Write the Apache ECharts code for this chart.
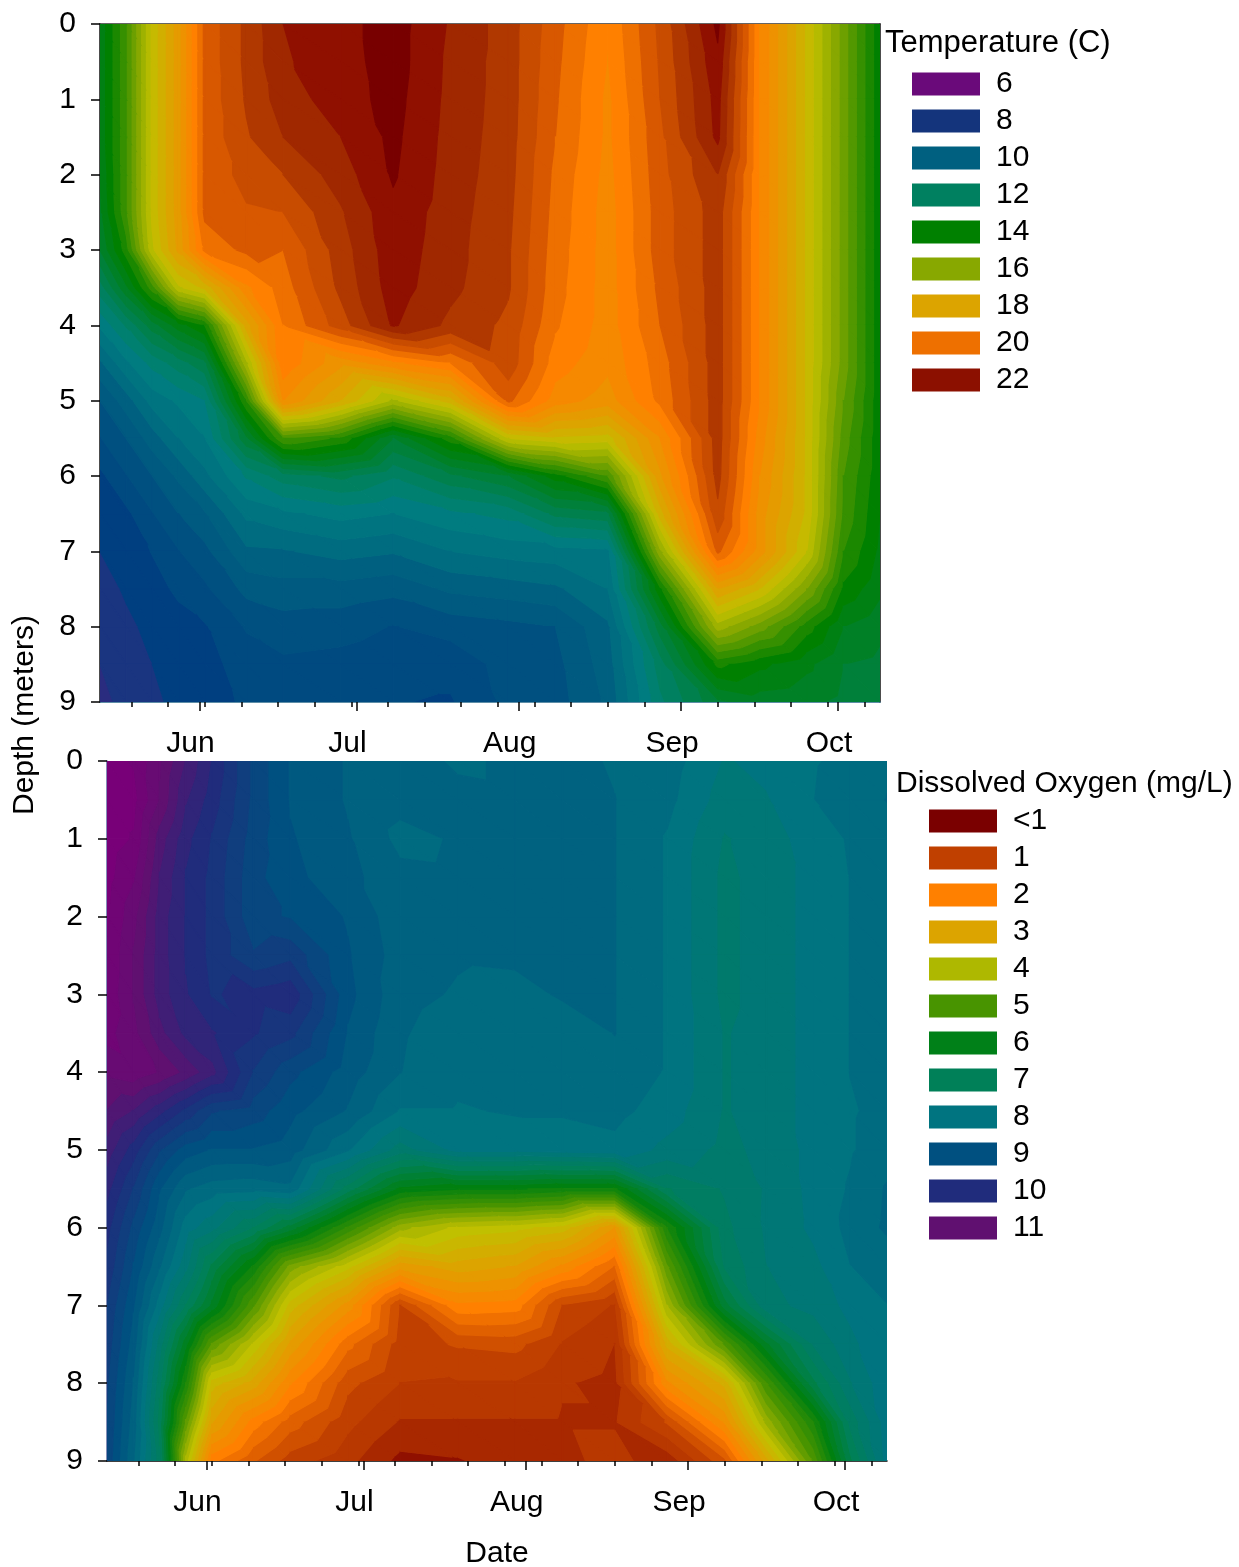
<!DOCTYPE html>
<html><head><meta charset="utf-8">
<style>html,body{margin:0;padding:0;background:#fff}#c{width:1239px;height:1567px}</style>
<script src="https://cdn.jsdelivr.net/npm/echarts@6/dist/echarts.min.js"></script>
</head><body><div id="c"></div>
<script>
// Sampling dates as day of year, and depths in metres
const sampleDays = [133,138,143,148,153,161,168,179,189,200,211,220,230,240,251,259,268,275,282];
const depths = [0,0.5,1,1.5,2,2.5,3,3.5,4,4.5,5,5.5,6,6.5,7,7.5,8,8.5,9];
const monthDays = [152,182,213,244,274];
const monthLabels = ['Jun','Jul','Aug','Sep','Oct'];
const weekDays = [139,146,153,160,167,174,181,188,195,202,209,216,223,230,237,244,251,258,265,272,279];
const depthTicks = [0,1,2,3,4,5,6,7,8,9];

// Temperature (C): one profile per sampling date, surface to 9 m
const temperatureProfiles = [
[13.5,13.5,13.5,13.5,13.4,13.3,13.0,12.0,11.07,10.12,9.4,8.98,8.5,8.38,8.2,8.0,7.9,7.8,7.7],
[14.9,14.9,14.9,14.9,14.9,14.9,14.4,13.3,11.84,10.91,10,9.4,8.98,8.5,8.38,8.26,8.1,8.0,7.9],
[17.1,17.1,17.1,17.1,17.1,17.1,16.9,14.8,12.8,11.53,10.76,10,9.4,8.98,8.62,8.44,8.32,8.2,8.15],
[18.4,18.4,18.4,18.4,18.4,18.4,18.3,16.9,13.6,12,11.07,10.6,9.88,9.4,8.98,8.68,8.44,8.32,8.26],
[20.3,20.3,20.3,20.3,20.3,20.3,19.9,17.5,14.2,12.5,11.38,10.99,10.48,9.76,9.28,8.92,8.56,8.44,8.38],
[21.1,21.1,21.05,20.95,20.75,20.55,20.3,19.3,18,16.5,14.6,12.9,11.45,10.7,10.12,9.52,9.04,8.8,8.68],
[21.8,21.75,21.6,21.4,21,20.6,20.2,20,19.8,19.7,19,15,12,10.91,10.16,9.64,9.22,8.92,8.8],
[22.05,22.02,22,21.8,21.6,21.35,21.2,21.1,20.8,18.7,17.8,14.5,12.3,11.14,10.36,9.64,9.16,8.86,8.74],
[22.4,22.4,22.35,22.3,22.25,22.1,22.05,22,21.85,19.3,16.5,13,11.84,10.99,10.24,9.52,8.98,8.74,8.62],
[21.75,21.7,21.68,21.65,21.62,21.58,21.55,21.5,21.3,19.8,17.6,14.4,12.5,11.3,10.6,9.88,9.16,8.74,8.56],
[21.2,21.2,21.2,21.18,21.15,21.1,21.05,21.05,20.9,20.85,20.3,17,13,11.53,10.76,10,9.28,9.16,9.1],
[20.35,20.3,20.25,20.2,20.1,20.05,20,19.95,19.85,19.6,19.2,17.3,14,12.3,10.83,10.12,9.4,9.28,9.22],
[19.45,19.38,19.3,19.3,19.25,19.2,19.2,19.2,19.2,19.1,18.8,17.2,15,12.5,10.91,10.6,10.12,10,9.88],
[20.7,20.65,20.6,20.5,20.45,20.4,20.4,20.3,20.2,20,19.9,19,18.5,17.6,16.1,14.1,12.8,12,11.7],
[22.3,22.1,21.95,21.9,21.4,21.2,21.2,21.2,21.2,21.2,21.2,21.2,21.15,20.9,20.3,18.2,16.4,14.3,12.9],
[19.4,19.4,19.4,19.4,19.4,19.4,19.4,19.4,19.4,19.4,19.4,19.2,19,18.8,18.8,17.4,15.6,13.9,13.2],
[17.3,17.3,17.3,17.3,17.3,17.3,17.3,17.3,17.3,17.3,17.3,17.3,17.3,17.3,17,15.8,14.4,13.5,13.1],
[15.6,15.6,15.6,15.6,15.6,15.6,15.6,15.6,15.6,15.6,15.4,15.2,15,14.9,14.6,14.1,13.4,13,12.9],
[13.9,13.9,13.9,13.9,13.9,13.9,13.9,13.9,13.9,13.9,13.9,13.9,13.9,13.8,13.7,13.5,13.1,12.9,12.8]
];

// Dissolved oxygen (mg/L): one profile per sampling date, surface to 9 m
const oxygenProfiles = [
[11.7,11.75,11.75,11.7,11.65,11.6,11.55,11.45,11.2,10.85,10.5,10.2,9.95,9.8,9.6,9.5,9.4,9.35,9.3],
[11.6,11.7,11.6,11.4,11.2,11.1,11.1,11.2,11.3,10.6,10,9.6,9.3,9.1,8.9,8.75,8.6,8.5,8.4],
[11.15,11.1,10.75,10.6,10.5,10.5,10.5,10.7,11.1,10.2,9.4,8.9,8.7,8.4,8,7.5,7.2,7,7.2],
[10.6,10.4,10.2,10.1,10.1,10.1,10.15,10.3,10.8,9.8,9,8.4,8,7.7,7.1,6.2,5.6,4.8,4],
[10.1,10,9.85,9.8,9.8,9.8,9.85,10.15,10.45,9.4,8.85,8.25,7.7,6.8,6.3,4.8,3.5,2.9,1.95],
[9.3,9.3,9.25,9.2,9.2,9.4,9.95,9.9,9.6,9.25,8.85,8.2,7.1,5.8,4.9,3.8,3,2,1.4],
[8.85,8.85,8.9,8.95,9.1,9.55,10.05,9.7,9.2,8.95,8.75,8.3,6.5,4.5,3.5,2.8,2.15,1.5,1],
[8.6,8.6,8.65,8.7,8.85,8.9,8.95,8.85,8.75,8.6,8.15,7,5.3,3.7,2.5,1.7,1.2,0.95,0.7],
[8.45,8.45,8.3,8.45,8.45,8.5,8.45,8.4,8.38,8.1,7.5,6.05,4.2,2.7,1.1,1,0.87,0.6,0.3],
[8.35,8.42,8.4,8.42,8.42,8.4,8.35,8.25,8.2,8.1,7.95,5.9,3.8,3,2.05,1.15,0.85,0.6,0.35],
[8.4,8.4,8.42,8.42,8.42,8.42,8.3,8.2,8.2,8.15,7.95,5.9,3.7,2.85,2,1.2,0.85,0.6,0.5],
[8.45,8.45,8.45,8.45,8.45,8.45,8.4,8.25,8.2,8.15,8,5.8,3.5,2.3,1.1,0.85,0.65,0.6,0.55],
[8.35,8.38,8.38,8.38,8.38,8.38,8.38,8.38,8.3,8.2,8.05,5.8,2.6,1.6,0.85,0.62,0.55,0.6,0.72],
[8.25,8.2,8.1,8.1,8.1,8.1,8.1,8.1,8.1,8,7.8,7.1,5.6,4.8,4.1,3.2,2.3,1.15,0.45],
[7.85,7.75,7.6,7.55,7.55,7.55,7.55,7.6,7.6,7.6,7.55,7.4,7.3,7.15,6.5,4.9,3.2,2.4,1.3],
[7.95,7.85,7.75,7.75,7.75,7.75,7.75,7.75,7.75,7.75,7.7,7.65,7.66,7.62,7.55,6.3,5.1,4.2,3],
[8.1,8.12,8,7.95,7.95,7.95,7.95,7.95,7.95,7.95,7.95,7.95,7.93,7.8,7.7,7.4,6.8,5.6,4.9],
[8.2,8.3,8.15,8.13,8.13,8.13,8.13,8.13,8.13,8.1,8.1,8.15,8.2,8.12,7.95,7.8,7.6,7.2,6.8],
[8.35,8.38,8.3,8.25,8.25,8.25,8.25,8.2,8.2,8.2,8.25,8.4,8.42,8.2,8.12,8.1,8.05,8,7.95]
];

// Legends
const tempLegendLabels = ['6','8','10','12','14','16','18','20','22'];
const tempLegendColors = ['#6a0a7a','#14347c','#006080','#008060','#008000','#88a800','#dca400','#ee7000','#8c1000'];
const doLegendLabels = ['<1','1','2','3','4','5','6','7','8','9','10','11'];
const doLegendColors = ['#7a0000','#c04000','#ff8000','#dca400','#aeb800','#489400','#008018','#008058','#007480','#005080','#202c7c','#601070'];

// Colour ramps and contour interval
const tempRamp = [[6,'#6a0a7a'],[8,'#1a3580'],[8.4,'#003f80'],[8.8,'#004a80'],[9.2,'#005080'],[9.6,'#005a80'],[10,'#006080'],[10.4,'#006c80'],[10.8,'#007480'],[11.2,'#007c80'],[11.6,'#008070'],[12,'#008060'],[14,'#008000'],[16,'#88a800'],[17,'#c0c000'],[18,'#dca400'],[19.6,'#ff8000'],[20,'#ee7000'],[20.4,'#d85800'],[20.8,'#c84c00'],[21.2,'#b03800'],[21.6,'#a02800'],[22,'#901000'],[22.4,'#780000']];
const doRamp = [[0,'#7a0000'],[0.25,'#901000'],[0.5,'#a82800'],[0.75,'#b83800'],[1,'#c04000'],[1.25,'#d05000'],[1.5,'#e06000'],[1.75,'#f07000'],[2,'#ff8000'],[3,'#dca400'],[3.75,'#c0c000'],[4,'#aeb800'],[5,'#489400'],[6,'#008010'],[7,'#008058'],[8,'#007480'],[9,'#005080'],[10,'#202c7c'],[11,'#601070'],[11.75,'#780078']];
const tempStep = 0.4, doStep = 0.25;

const FONT = '"Liberation Sans", Arial, sans-serif';

function hex(c){return [parseInt(c.slice(1,3),16),parseInt(c.slice(3,5),16),parseInt(c.slice(5,7),16)];}
function rampColor(ramp,v){
  if(v<=ramp[0][0])return ramp[0][1];
  for(let i=1;i<ramp.length;i++){
    if(v<=ramp[i][0]){
      const a=hex(ramp[i-1][1]),b=hex(ramp[i][1]),t=(v-ramp[i-1][0])/(ramp[i][0]-ramp[i-1][0]);
      return 'rgb('+a.map((x,k)=>Math.round(x+(b[k]-x)*t)).join(',')+')';
    }
  }
  return ramp[ramp.length-1][1];
}
// Clip a polygon with per-vertex value to one side of a level
function clip(poly,level,keepAbove){
  const out=[];
  for(let i=0;i<poly.length;i++){
    const p=poly[i],q=poly[(i+1)%poly.length];
    const pin=keepAbove?p[2]>=level:p[2]<=level, qin=keepAbove?q[2]>=level:q[2]<=level;
    if(pin)out.push(p);
    if(pin!==qin){
      const t=(level-p[2])/(q[2]-p[2]);
      out.push([p[0]+(q[0]-p[0])*t,p[1]+(q[1]-p[1])*t,level]);
    }
  }
  return out;
}
function bandPolys(tri,step,ramp,children){
  const vs=tri.map(p=>p[2]);
  const k0=Math.round(Math.min.apply(null,vs)/step),k1=Math.round(Math.max.apply(null,vs)/step);
  for(let k=k0;k<=k1;k++){
    let poly=clip(tri,(k-0.5)*step,true);
    if(poly.length>2)poly=clip(poly,(k+0.5)*step,false);
    if(poly.length>2){
      const col=rampColor(ramp,k*step);
      children.push({type:'polygon',silent:true,shape:{points:poly.map(p=>[p[0],p[1]])},
        style:{fill:col,stroke:col,lineWidth:1.2,lineJoin:'round'}});
    }
  }
}
function cells(profiles){
  const out=[];
  for(let i=0;i<sampleDays.length-1;i++)for(let j=0;j<depths.length-1;j++){
    out.push([sampleDays[i],sampleDays[i+1],depths[j],depths[j+1],profiles[i][j],profiles[i+1][j],profiles[i][j+1],profiles[i+1][j+1]]);
  }
  return out;
}
function contourSeries(profiles,step,ramp,xi,yi){
  return {type:'custom',xAxisIndex:xi,yAxisIndex:yi,coordinateSystem:'cartesian2d',clip:true,silent:true,z:1,
    animation:false,progressive:0,
    encode:{x:[0,1],y:[2,3]},data:cells(profiles),
    renderItem:function(params,api){
      const d0=api.value(0),d1=api.value(1),z0=api.value(2),z1=api.value(3);
      const a=api.coord([d0,z0]),b=api.coord([d1,z0]),c=api.coord([d0,z1]),e=api.coord([d1,z1]);
      const A=[a[0],a[1],api.value(4)],B=[b[0],b[1],api.value(5)],C=[c[0],c[1],api.value(6)],E=[e[0],e[1],api.value(7)];
      const children=[];
      bandPolys([A,B,E],step,ramp,children);
      bandPolys([A,E,C],step,ramp,children);
      return {type:'group',children:children};
    }};
}
function monthAxis(gridIndex,name,lineColor){
  return {type:'value',gridIndex:gridIndex,min:133,max:282,position:'bottom',splitLine:{show:false},
    name:name,nameLocation:'middle',nameGap:78,nameTextStyle:{fontFamily:FONT,fontSize:30,color:'#000'},
    axisLine:{show:true,onZero:false,lineStyle:{color:lineColor,width:1.5}},
    axisTick:{show:true,customValues:monthDays,length:9,lineStyle:{color:'#000',width:1.5}},
    axisLabel:{show:true,customValues:monthDays,margin:27,fontFamily:FONT,fontSize:30,color:'#000',padding:[0,18,0,0],
      formatter:function(v){return monthLabels[monthDays.indexOf(v)];}}};
}
function weekAxis(gridIndex){
  return {type:'value',gridIndex:gridIndex,min:133,max:282,position:'bottom',splitLine:{show:false},
    axisLine:{show:false,onZero:false},
    axisTick:{show:true,customValues:weekDays,length:5,lineStyle:{color:'#000',width:1.5}},
    axisLabel:{show:false}};
}
function depthAxis(gridIndex,lineColor){
  return {type:'value',gridIndex:gridIndex,inverse:true,min:0,max:9,interval:1,position:'left',splitLine:{show:false},
    axisLine:{show:true,onZero:false,lineStyle:{color:lineColor,width:1.5}},
    axisTick:{show:true,length:9,lineStyle:{color:'#000',width:1.5},customValues:depthTicks},
    axisLabel:{margin:24,fontFamily:FONT,fontSize:30,color:'#000'}};
}
function legendPieces(labels,colors){
  return labels.map((l,i)=>({value:i,label:l,color:colors[i]}));
}
function legendMap(labels,colors,left,top,si){
  return {type:'piecewise',orient:'vertical',left:left,top:top,seriesIndex:si,dimension:4,
    pieces:legendPieces(labels,colors),inverse:true,selectedMode:false,hoverLink:false,
    itemWidth:68,itemHeight:23,itemGap:7,textGap:16,itemSymbol:'rect',align:'left',
    textStyle:{fontFamily:FONT,fontSize:30,color:'#000'}};
}
const chart=echarts.init(document.getElementById('c'),null,{renderer:'canvas'});
chart.setOption({
  animation:false,backgroundColor:'#fff',
  grid:[{left:100,top:24,width:780,height:678,containLabel:false,outerBoundsMode:'none'},{left:107,top:761,width:780,height:700,containLabel:false,outerBoundsMode:'none'}],
  xAxis:[monthAxis(0,'','#2a6a8a'),weekAxis(0),monthAxis(1,'Date','#000'),weekAxis(1),
    {type:'value',gridIndex:0,min:133,max:282,position:'top',axisLine:{show:true,onZero:false,lineStyle:{color:'#333',width:1.5}},axisTick:{show:false},axisLabel:{show:false},splitLine:{show:false}}],
  yAxis:[depthAxis(0,'#111'),depthAxis(1,'#5a6aa0'),
    {type:'value',gridIndex:0,inverse:true,min:0,max:9,position:'right',axisLine:{show:true,onZero:false,lineStyle:{color:'#111',width:1.5}},axisTick:{show:false},axisLabel:{show:false},splitLine:{show:false}}],
  visualMap:[legendMap(tempLegendLabels,tempLegendColors,897,54,0),legendMap(doLegendLabels,doLegendColors,914,791,1)],
  series:[contourSeries(temperatureProfiles,tempStep,tempRamp,0,0),contourSeries(oxygenProfiles,doStep,doRamp,2,1)],
  graphic:[
    {type:'text',left:885,top:28,style:{text:'Temperature (C)',font:'31px '+FONT,fill:'#000'}},
    {type:'text',left:896,top:769,style:{text:'Dissolved Oxygen (mg/L)',font:'30px '+FONT,fill:'#000'}},
    {type:'text',x:25,y:715,rotation:Math.PI/2,style:{text:'Depth (meters)',font:'30px '+FONT,fill:'#000',align:'center',verticalAlign:'middle'}}
  ]
});
</script></body></html>
